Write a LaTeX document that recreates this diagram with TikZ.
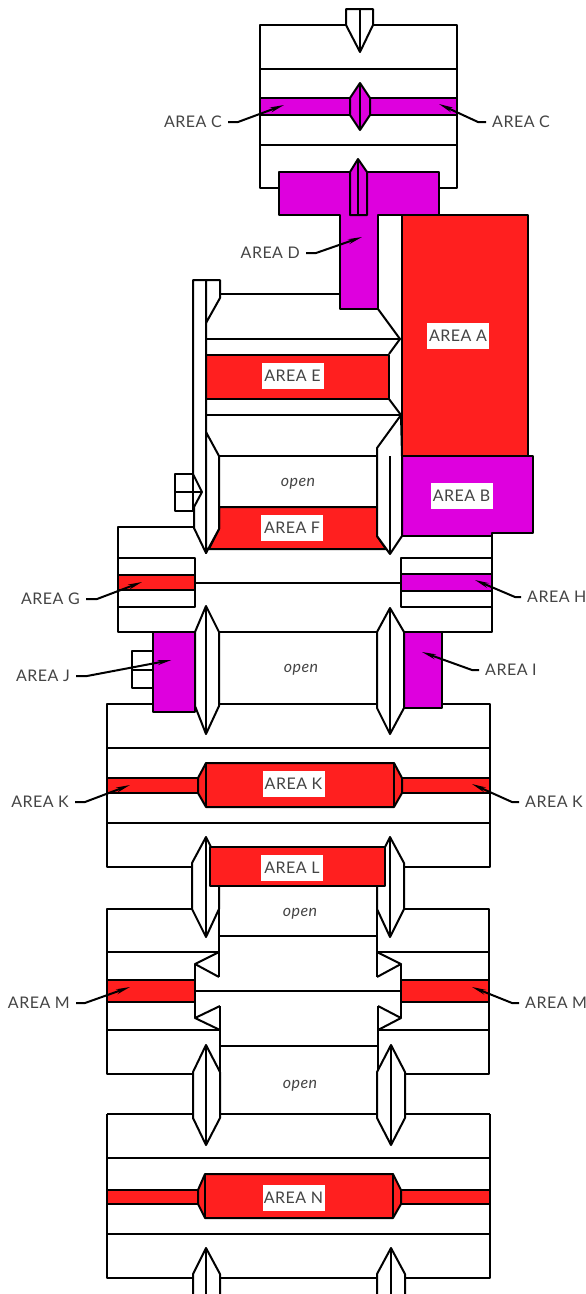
\documentclass[tikz,border=0pt]{standalone}
\usepackage{fontspec}
\setmainfont[LetterSpace=3]{Lato}
\usetikzlibrary{arrows.meta}
\definecolor{areared}{HTML}{FF1F1F}
\definecolor{areapurple}{HTML}{DE00DE}
\definecolor{labelgray}{HTML}{444444}
\tikzset{
  wall/.style={draw,line width=2pt,line join=round},
  redarea/.style={wall,fill=areared},
  purplearea/.style={wall,fill=areapurple},
  whitepin/.style={wall,fill=white},
  lbl/.style={text=labelgray,font=\fontsize{16}{16}\selectfont,inner xsep=6pt,inner ysep=0pt},
  tag/.style={lbl,fill=white,minimum width=62pt,minimum height=26pt,inner xsep=0pt},
  opentxt/.style={text=labelgray,font=\fontsize{16}{16}\itshape\selectfont,inner sep=0pt},
  leader/.style={draw,line width=2pt,-{Stealth[length=14pt,width=5pt]}}
}
\begin{document}
\begin{tikzpicture}[x=1pt,y=-1pt]
\useasboundingbox (0,0) rectangle (586,1294);

\path[wall] (260,25) rectangle (457,188);
\path[wall] (260,69) -- (457,69);
\path[wall] (260,145) -- (457,145);
\path[whitepin] (346,9) -- (373,9) -- (373,25) -- (360,52) -- (346,25) -- cycle;
\path[wall] (360,9) -- (360,52);
\path[purplearea] (260,98) rectangle (457,115);
\path[purplearea] (360,83) -- (370,98) -- (370,115) -- (360,130) -- (350,115) -- (350,98) -- cycle;
\path[wall] (360,83) -- (360,130);

\path[purplearea] (279,172) -- (439,172) -- (439,215) -- (378,215) -- (378,309) -- (340,309) -- (340,215) -- (279,215) -- cycle;
\path[purplearea] (350,215) -- (350,172) -- (358,159) -- (367,172) -- (367,215) -- cycle;
\path[wall] (358,159) -- (358,215);
\path[redarea] (402,215) rectangle (528,456);

\path[wall] (220,294) -- (340,294);
\path[wall] (378,309) -- (400,339) -- (389,354);
\path[wall] (206,339) -- (400,339);
\path[redarea] (206,355) rectangle (389,399);
\path[wall] (389,399) -- (401,415);
\path[wall] (206,415) -- (401,415);
\path[wall] (219,456) -- (402,456);
\path[redarea] (219,507) -- (377,507) -- (377,536) -- (386,549) -- (209,549) -- (219,529) -- cycle;
\path[purplearea] (402,456) -- (533,456) -- (533,533) -- (492,533) -- (492,536) -- (402,536) -- cycle;

\path[whitepin] (175,474) rectangle (193,511);
\path[wall] (175,492) -- (202,492);
\path[whitepin] (193,280) -- (206,280) -- (206,553) -- (194,528) -- (194,507) -- (202,492) -- (193,474) -- cycle;
\path[whitepin] (206,280) -- (220,280) -- (220,298) -- (206,323) -- cycle;
\path[whitepin] (206,432) -- (219,456) -- (219,529) -- (206,553) -- cycle;
\path[whitepin] (401,415) -- (377,448) -- (377,536) -- (390,554) -- (402,536) -- (402,456) -- cycle;
\path[wall] (390,456) -- (390,554);

\path[wall] (194,527) -- (118,527) -- (118,632) -- (195,632);
\path[wall] (492,536) -- (492,632) -- (442,632);
\path[wall] (118,558) rectangle (195,607);
\path[wall] (401,558) rectangle (492,607);
\path[wall] (195,583) -- (401,583);
\path[redarea] (118,575) rectangle (195,590);
\path[purplearea] (401,574) rectangle (492,591);

\path[wall] (219,632) -- (377,632);
\path[wall] (219,704) -- (377,704);
\path[whitepin] (132,651) rectangle (153,688);
\path[wall] (132,670) -- (153,670);
\path[wall] (153,704) -- (107,704) -- (107,867) -- (192,867);
\path[wall] (442,704) -- (490,704) -- (490,867) -- (404,867);
\path[purplearea] (153,632) rectangle (195,712);
\path[purplearea] (404,632) rectangle (442,708);
\path[whitepin] (206,606) -- (219,632) -- (219,706) -- (206,734) -- (195,706) -- (195,632) -- cycle;
\path[wall] (206,606) -- (206,734);
\path[whitepin] (390,608) -- (404,632) -- (404,708) -- (390,734) -- (377,708) -- (377,632) -- cycle;
\path[wall] (390,608) -- (390,734);

\path[wall] (107,748) -- (490,748);
\path[wall] (107,823) -- (490,823);
\path[redarea] (107,778) rectangle (198,793);
\path[redarea] (402,778) rectangle (490,793);
\path[redarea] (198,778) -- (206,763) -- (394,763) -- (402,778) -- (402,793) -- (394,807) -- (206,807) -- (198,793) -- cycle;
\path[wall] (206,763) -- (206,807);
\path[wall] (394,763) -- (394,807);

\path[wall] (219,936) -- (377,936);
\path[wall] (219,886) -- (219,977);
\path[wall] (377,886) -- (377,977);
\path[whitepin] (206,837) -- (219,863) -- (219,909) -- (206,937) -- (192,909) -- (192,863) -- cycle;
\path[wall] (206,837) -- (206,937);
\path[whitepin] (390,837) -- (404,863) -- (404,909) -- (390,937) -- (377,909) -- (377,863) -- cycle;
\path[wall] (390,837) -- (390,937);
\path[redarea] (210,847) rectangle (385,886);

\path[wall] (192,909) -- (107,909) -- (107,1074) -- (193,1074);
\path[wall] (404,909) -- (489,909) -- (489,1074) -- (405,1074);
\path[wall] (107,952) -- (219,952);
\path[wall] (377,952) -- (489,952);
\path[wall] (107,1030) -- (220,1030);
\path[wall] (378,1030) -- (489,1030);
\path[wall] (195,991) -- (401,991);
\path[wall] (219,952) -- (195,964) -- (219,977);
\path[wall] (377,952) -- (401,964) -- (377,977);
\path[wall] (195,964) -- (195,1018);
\path[wall] (401,964) -- (401,1018);
\path[wall] (220,1006) -- (195,1018) -- (220,1030);
\path[wall] (378,1006) -- (401,1018) -- (378,1030);
\path[wall] (220,1006) -- (220,1072);
\path[wall] (378,1006) -- (378,1072);
\path[redarea] (107,980) rectangle (195,1002);
\path[redarea] (401,980) rectangle (489,1002);
\path[wall] (220,1046) -- (378,1046);

\path[wall] (107,1114) -- (490,1114);
\path[wall] (107,1114) -- (107,1278) -- (490,1278) -- (490,1114);
\path[wall] (107,1158) -- (490,1158);
\path[wall] (107,1234) -- (490,1234);
\path[whitepin] (206,1045) -- (220,1072) -- (220,1118) -- (206,1145) -- (193,1118) -- (193,1072) -- cycle;
\path[wall] (206,1045) -- (206,1145);
\path[whitepin] (391,1045) -- (405,1072) -- (405,1118) -- (391,1145) -- (377,1118) -- (377,1072) -- cycle;
\path[wall] (391,1045) -- (391,1145);
\path[redarea] (107,1190) rectangle (198,1204);
\path[redarea] (401,1190) rectangle (490,1204);
\path[redarea] (198,1190) -- (205,1174) -- (393,1174) -- (401,1190) -- (401,1204) -- (393,1218) -- (205,1218) -- (198,1204) -- cycle;
\path[wall] (205,1174) -- (205,1218);
\path[wall] (393,1174) -- (393,1218);
\path[whitepin] (193,1298) -- (193,1274) -- (206,1248) -- (220,1274) -- (220,1298);
\path[wall] (206,1248) -- (206,1298);
\path[whitepin] (377,1298) -- (377,1274) -- (391,1248) -- (405,1274) -- (405,1298);
\path[wall] (391,1248) -- (391,1298);

\node[tag] (areaA) at (458,336) {AREA A};
\node[tag] (areaB) at (461.5,496) {AREA B};
\node[tag] (areaE) at (292.5,376) {AREA E};
\node[tag] (areaF) at (292,528) {AREA F};
\node[tag] (areaKmid) at (293.5,784) {AREA K};
\node[tag] (areaL) at (292,868) {AREA L};
\node[tag] (areaN) at (293.5,1198) {AREA N};
\node[opentxt] (open1) at (298,484) {open};
\node[opentxt] (open2) at (301,670) {open};
\node[opentxt] (open3) at (300,914) {open};
\node[opentxt] (open4) at (300,1086) {open};

\node[lbl,anchor=east] (areaCl) at (228,122) {AREA C};
\node[lbl,anchor=west] (areaCr) at (486,122) {AREA C};
\node[lbl,anchor=east] (areaD) at (306,253) {AREA D};
\node[lbl,anchor=east] (areaG) at (86,599) {AREA G};
\node[lbl,anchor=west] (areaH) at (521,597) {AREA H};
\node[lbl,anchor=east] (areaJ) at (76,676) {AREA J};
\node[lbl,anchor=west] (areaI) at (479,670) {AREA I};
\node[lbl,anchor=east] (areaKl) at (75,802) {AREA K};
\node[lbl,anchor=west] (areaKr) at (519,802) {AREA K};
\node[lbl,anchor=east] (areaMl) at (76,1003) {AREA M};
\node[lbl,anchor=west] (areaMr) at (519,1003) {AREA M};

\coordinate (kneeCl) at (238,122);
\coordinate (tipCl) at (284,105);
\coordinate (kneeCr) at (478,122);
\coordinate (tipCr) at (439,104);
\coordinate (kneeD) at (316,253);
\coordinate (tipD) at (362,237);
\coordinate (kneeG) at (97,599);
\coordinate (tipG) at (142,582);
\coordinate (kneeH) at (515,597);
\coordinate (tipH) at (475,580);
\coordinate (kneeJ) at (87,676);
\coordinate (tipJ) at (171.5,660);
\coordinate (kneeI) at (472,670);
\coordinate (tipI) at (422,652);
\coordinate (kneeKl) at (85,802);
\coordinate (tipKl) at (130,785);
\coordinate (kneeKr) at (512,802);
\coordinate (tipKr) at (472,784);
\coordinate (kneeMl) at (85,1003);
\coordinate (tipMl) at (130,987);
\coordinate (kneeMr) at (512,1003);
\coordinate (tipMr) at (472,987);

\path[leader] (areaCl.east) -- (kneeCl) -- (tipCl);
\path[leader] (areaCr.west) -- (kneeCr) -- (tipCr);
\path[leader] (areaD.east) -- (kneeD) -- (tipD);
\path[leader] (areaG.east) -- (kneeG) -- (tipG);
\path[leader] (areaH.west) -- (kneeH) -- (tipH);
\path[leader] (areaJ.east) -- (kneeJ) -- (tipJ);
\path[leader] (areaI.west) -- (kneeI) -- (tipI);
\path[leader] (areaKl.east) -- (kneeKl) -- (tipKl);
\path[leader] (areaKr.west) -- (kneeKr) -- (tipKr);
\path[leader] (areaMl.east) -- (kneeMl) -- (tipMl);
\path[leader] (areaMr.west) -- (kneeMr) -- (tipMr);
\end{tikzpicture}
\end{document}
